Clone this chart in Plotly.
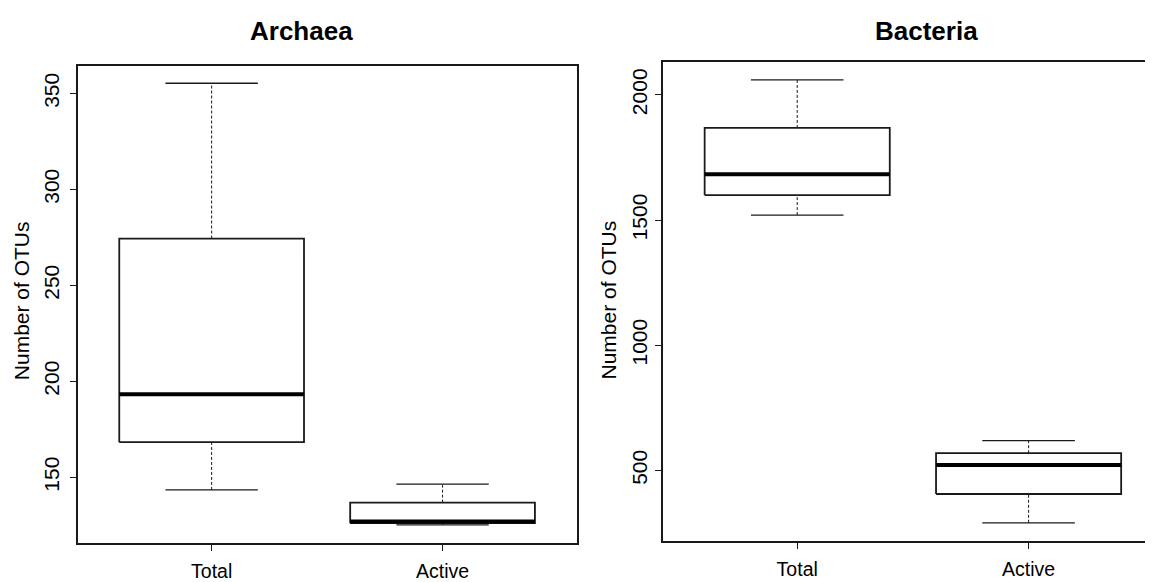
import plotly.graph_objects as go

# ---- data ----
groups = ["Total", "Active"]
arch_lower = [143.4, 125.2]
arch_q1 = [168.3, 126.1]
arch_median = [193.3, 127.0]
arch_q3 = [274.4, 136.8]
arch_upper = [355.3, 146.4]

bact_lower = [1520, 291]
bact_q1 = [1600, 406]
bact_median = [1683, 522]
bact_q3 = [1868, 569]
bact_upper = [2060, 619]

arch_ticks = [150, 200, 250, 300, 350]
bact_ticks = [500, 1000, 1500, 2000]

# page body has an 8px default margin; compensate so positions match the window
OFF = 8
W, H = 1153 - OFF, 582 - OFF
FONT = "Liberation Sans, Arial, Helvetica, sans-serif"
LC = "#1a1a1a"


def px(x):
    return (x - OFF) / W


def py(y):
    return 1 - (y - OFF) / H


fig = go.Figure()


def add_boxes(xa, ya, lower, q1, med, q3, upper):
    for i, _ in enumerate(groups):
        c = i + 1
        common = dict(xaxis=xa, yaxis=ya, mode="lines", showlegend=False, hoverinfo="skip")
        # dashed whiskers
        fig.add_trace(go.Scatter(x=[c, c], y=[q3[i], upper[i]],
                                 line=dict(color=LC, width=1, dash="3px,2px"), **common))
        fig.add_trace(go.Scatter(x=[c, c], y=[lower[i], q1[i]],
                                 line=dict(color=LC, width=1, dash="3px,2px"), **common))
        # caps
        fig.add_trace(go.Scatter(x=[c - 0.2, c + 0.2], y=[upper[i], upper[i]],
                                 line=dict(color=LC, width=1.3), **common))
        fig.add_trace(go.Scatter(x=[c - 0.2, c + 0.2], y=[lower[i], lower[i]],
                                 line=dict(color=LC, width=1.3), **common))
        # box
        fig.add_trace(go.Scatter(x=[c - 0.4, c + 0.4, c + 0.4, c - 0.4, c - 0.4],
                                 y=[q1[i], q1[i], q3[i], q3[i], q1[i]],
                                 fill="toself", fillcolor="white",
                                 line=dict(color=LC, width=1.8), **common))
        # median
        fig.add_trace(go.Scatter(x=[c - 0.4, c + 0.4], y=[med[i], med[i]],
                                 line=dict(color="black", width=4), **common))


add_boxes("x", "y", arch_lower, arch_q1, arch_median, arch_q3, arch_upper)
add_boxes("x2", "y2", bact_lower, bact_q1, bact_median, bact_q3, bact_upper)

xcommon = dict(tickmode="array", tickvals=[1, 2], ticktext=groups,
               showline=True, linecolor=LC, linewidth=1.8, mirror=True,
               ticks="outside", ticklen=6, tickwidth=1, tickcolor=LC,
               showgrid=False, zeroline=False, fixedrange=True,
               tickfont=dict(family=FONT, size=19.5, color="black"),
               ticklabelstandoff=4)
ycommon = dict(tickmode="array", showline=True, linecolor=LC, linewidth=1.8,
               ticks="outside", ticklen=6, tickwidth=1, tickcolor=LC,
               showgrid=False, zeroline=False, fixedrange=True, tickangle=-90,
               tickfont=dict(family=FONT, size=21, color="black"))

fig.update_layout(
    width=W, height=H,
    margin=dict(l=0, r=0, t=0, b=0),
    paper_bgcolor="white", plot_bgcolor="white",
    showlegend=False,
    xaxis=dict(domain=[px(77.7), px(576.5)], range=[0.42, 2.58], anchor="y", **xcommon),
    yaxis=dict(domain=[py(545), py(66)], range=[115.7, 364.4], anchor="x",
               tickvals=arch_ticks, ticktext=[str(t) for t in arch_ticks],
               mirror=True, ticklabelstandoff=2, **ycommon),
    xaxis2=dict(domain=[px(663), 1.0], range=[0.42, 2.5376], anchor="y2", **xcommon),
    yaxis2=dict(domain=[py(542.7), py(62.3)], range=[219, 2131], anchor="x2",
                tickvals=bact_ticks, ticktext=[str(t) for t in bact_ticks],
                mirror=False, ticklabelstandoff=0, **ycommon),
    annotations=[
        dict(text="<b>Archaea</b>", xref="paper", yref="paper", x=px(301), y=py(31),
             showarrow=False, xanchor="center", yanchor="middle",
             font=dict(family=FONT, size=26, color="black")),
        dict(text="<b>Bacteria</b>", xref="paper", yref="paper", x=px(926.5), y=py(31),
             showarrow=False, xanchor="center", yanchor="middle",
             font=dict(family=FONT, size=26, color="black")),
        dict(text="Number of OTUs", xref="paper", yref="paper", x=px(21.7), y=py(301.5),
             showarrow=False, textangle=-90, xanchor="center", yanchor="middle",
             font=dict(family=FONT, size=21, color="black")),
        dict(text="Number of OTUs", xref="paper", yref="paper", x=px(608), y=py(301.5),
             showarrow=False, textangle=-90, xanchor="center", yanchor="middle",
             font=dict(family=FONT, size=21, color="black")),
    ],
)

fig.write_html("out.html")
